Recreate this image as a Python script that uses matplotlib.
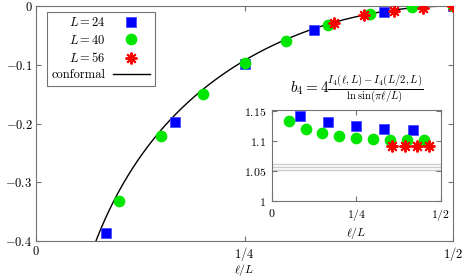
import numpy as np
import matplotlib
matplotlib.use("Agg")
import matplotlib.pyplot as plt

plt.rcParams['font.family'] = 'serif'
plt.rcParams['font.serif'] = ['cmr10']
plt.rcParams['mathtext.fontset'] = 'cm'
plt.rcParams['axes.formatter.use_mathtext'] = True

# main panel: data
x24 = [2/24, 4/24, 6/24, 8/24, 10/24, 12/24]
y24 = [-0.386, -0.197, -0.0987, -0.041, -0.010, 0.0]
x40 = [4/40, 6/40, 8/40, 10/40, 12/40, 14/40, 16/40, 18/40, 20/40]
y40 = [-0.331, -0.221, -0.149, -0.0965, -0.059, -0.032, -0.0136, -0.0025, 0.0]
x56 = [20/56, 22/56, 24/56, 26/56, 28/56]
y56 = [-0.0295, -0.0150, -0.0080, -0.0028, 0.0]
conf_coef = 0.267  # conformal: coef * ln sin(pi l/L)

# inset: b4
bx24 = [2/24, 4/24, 6/24, 8/24, 10/24]
b24 = [1.1422, 1.1322, 1.1250, 1.1205, 1.1188]
bx40 = [2/40, 4/40, 6/40, 8/40, 10/40, 12/40, 14/40, 16/40, 18/40]
b40 = [1.1333, 1.1212, 1.1133, 1.1088, 1.1062, 1.1038, 1.1028, 1.1022, 1.1022]
bx56 = [20/56, 22/56, 24/56, 26/56]
b56 = [1.0922, 1.0922, 1.0920, 1.0920]
ref_lines = [1.0617, 1.0576, 1.0512]

blue = '#0000ff'
green = '#00e600'
red = '#ff0000'
frame = '0.45'

fig = plt.figure(figsize=(4.63, 2.79), dpi=100)
ax = fig.add_axes([0.0778, 0.136, 0.9012, 0.8425])

xx = np.linspace(0.05, 0.5, 400)
ax.plot(xx, conf_coef*np.log(np.sin(np.pi*xx)), color='black', lw=1.0, label='conformal', zorder=2)
ax.plot(x24, y24, 's', color=blue, ms=6.8, mec='#4040ff', mew=0.5, label=r'$L=24$', zorder=3)
ax.plot(x40, y40, 'o', color=green, ms=7.4, mec=green, label=r'$L=40$', zorder=3)
ax.plot(x56, y56, ls='none', marker=(8, 2, 0), color=red, ms=8.5, mew=1.4, label=r'$L=56$', zorder=4)

ax.set_xlim(0, 0.5)
ax.set_ylim(-0.4, 0)
ax.set_xticks([0, 0.25, 0.5])
ax.set_xticklabels([r'$0$', r'$1/4$', r'$1/2$'])
ax.set_yticks([0, -0.1, -0.2, -0.3, -0.4])
ax.set_yticklabels([r'$0$', r'$-0.1$', r'$-0.2$', r'$-0.3$', r'$-0.4$'])
ax.set_xlabel(r'$\ell/L$', fontsize=8.5)
ax.xaxis.set_label_coords(0.5, -0.09)
ax.tick_params(direction='in', top=True, right=True, length=3.5, width=0.8,
               color=frame, labelsize=9, pad=2.5)
for s in ax.spines.values():
    s.set_color(frame)
    s.set_linewidth(0.8)

h, l = ax.get_legend_handles_labels()
order = [1, 2, 3, 0]
leg = ax.legend([h[i] for i in order], [l[i] for i in order], loc='upper left',
                bbox_to_anchor=(0.026, 0.975), markerfirst=False, numpoints=1,
                fancybox=False, framealpha=1, edgecolor=frame, fontsize=9,
                handlelength=3.0, handletextpad=0.6, labelspacing=0.35,
                borderpad=0.35, borderaxespad=0)
leg.get_frame().set_linewidth(0.8)

# inset
ins = fig.add_axes([0.5868, 0.2796, 0.3652, 0.3251])
for v in ref_lines:
    ins.axhline(v, color='0.8', lw=1.0, zorder=1)
ins.plot(bx24, b24, 's', color=blue, ms=6.8, mec='#4040ff', mew=0.5, zorder=3)
ins.plot(bx40, b40, 'o', color=green, ms=7.4, mec=green, zorder=3)
ins.plot(bx56, b56, ls='none', marker=(8, 2, 0), color=red, ms=8.5, mew=1.4, zorder=4)
ins.set_xlim(0, 0.5)
ins.set_ylim(1.0, 1.152)
ins.set_xticks([0, 0.25, 0.5])
ins.set_xticklabels([r'$0$', r'$1/4$', r'$1/2$'])
ins.set_yticks([1.0, 1.05, 1.1, 1.15])
ins.set_yticklabels([r'$1$', r'$1.05$', r'$1.1$', r'$1.15$'])
ins.set_xlabel(r'$\ell/L$', fontsize=8.5, labelpad=2)
ins.tick_params(direction='in', top=True, right=True, length=3.5, width=0.8,
                color=frame, labelsize=8.5, pad=4)
for s in ins.spines.values():
    s.set_color(frame)
    s.set_linewidth(0.8)
ins.set_title(r'$b_4 = 4\frac{I_4(\ell,L)-I_4(L/2,L)}{\ln\sin(\pi\ell/L)}$', fontsize=11, pad=12)

fig.savefig('out.png', dpi=100)
